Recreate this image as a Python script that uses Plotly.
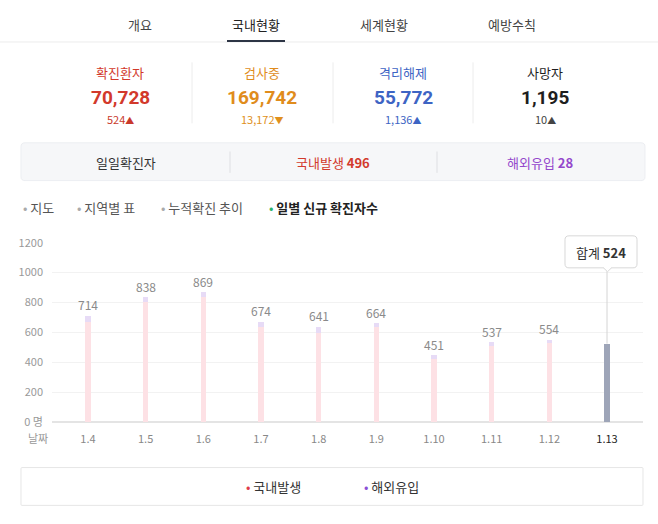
import plotly.graph_objects as go

# ---------------- data ----------------
dates = ["1.4", "1.5", "1.6", "1.7", "1.8", "1.9", "1.10", "1.11", "1.12", "1.13"]
totals = [714, 838, 869, 674, 641, 664, 451, 537, 554, 524]
overseas = [43, 33, 32, 33, 40, 28, 29, 23, 22, 28]
domestic = [t - o for t, o in zip(totals, overseas)]

tabs = ["개요", "국내현황", "세계현황", "예방수칙"]
stat_titles = ["확진환자", "검사중", "격리해제", "사망자"]
stat_values = ["70,728", "169,742", "55,772", "1,195"]
stat_deltas = ["524", "13,172", "1,136", "10"]
stat_arrows = ["▲", "▼", "▲", "▲"]
sub_tabs = ["지도", "지역별 표", "누적확진 추이", "일별 신규 확진자수"]
y_ticks = [0, 200, 400, 600, 800, 1000, 1200]
legend_names = ["국내발생", "해외유입"]

# ---------------- geometry helpers ----------------
W, H = 658, 524
FONT = "Noto Sans CJK KR"
NUMFONT = "Roboto"


def fx(x):
    return x / W


def fy(y):
    return 1 - y / H


def rrect(x0, y0, x1, y1, r):
    pts = [
        ("M", x0 + r, y0), ("L", x1 - r, y0), ("Q", x1, y0, x1, y0 + r),
        ("L", x1, y1 - r), ("Q", x1, y1, x1 - r, y1), ("L", x0 + r, y1),
        ("Q", x0, y1, x0, y1 - r), ("L", x0, y0 + r), ("Q", x0, y0, x0 + r, y0),
    ]
    s = ""
    for p in pts:
        cmd = p[0]
        coords = p[1:]
        s += cmd + " " + " ".join(
            f"{fx(coords[i]):.5f},{fy(coords[i + 1]):.5f}" for i in range(0, len(coords), 2)
        ) + " "
    return s + "Z"


annotations = []
shapes = []


def text(x, y, t, size=13, color="#333", xanchor="center", yanchor="middle", family=FONT):
    annotations.append(dict(
        x=fx(x), y=fy(y), xref="paper", yref="paper", text=t, showarrow=False,
        xanchor=xanchor, yanchor=yanchor, font=dict(family=family, size=size, color=color)))


def line(x0, y0, x1, y1, color, width=1, layer="below"):
    shapes.append(dict(type="line", xref="paper", yref="paper",
                       x0=fx(x0), y0=fy(y0), x1=fx(x1), y1=fy(y1),
                       line=dict(color=color, width=width), layer=layer))


# ---------------- top tabs ----------------
tab_x = [140, 256, 384, 512]
for i, t in enumerate(tabs):
    text(tab_x[i], 16, t, size=13, color="#222" if i == 1 else "#444")
line(0, 34, W, 34, "#ececec")
line(227, 33, 285, 33, "#2d3545", 2)

# ---------------- stats ----------------
stat_x = [120, 262, 403, 545]
stat_colors = ["#d2392b", "#e08c1c", "#3d64c4", "#1e1e1e"]
delta_colors = ["#c9392c", "#e0901c", "#3d64c4", "#444"]
for i in range(4):
    text(stat_x[i], 66, stat_titles[i], size=13, color=stat_colors[i])
    text(stat_x[i], 91, f"<b>{stat_values[i]}</b>", size=19, color=stat_colors[i], family=NUMFONT)
    text(stat_x[i], 113, f"{stat_deltas[i]}<span style='font-size:9px'>{stat_arrows[i]}</span>",
         size=11, color=delta_colors[i])
for sx in [192, 333, 473]:
    line(sx, 55, sx, 118, "#ececec")

# ---------------- daily box ----------------
shapes.append(dict(type="path", xref="paper", yref="paper", path=rrect(21, 138, 645, 177, 4),
                   fillcolor="#f6f7f9", line=dict(color="#eceef2", width=1), layer="below"))
for sx in [230, 437]:
    line(sx, 147, sx, 169, "#dedfe3")
text(126, 158, "일일확진자", size=13, color="#333")
text(333, 158, f"국내발생 <b>{domestic[-1]}</b>", size=13, color="#d23a2c")
text(540, 158, f"해외유입 <b>{overseas[-1]}</b>", size=13, color="#9447cc")

# ---------------- sub tabs ----------------
sub_x = [21, 75, 159, 267]
for i, t in enumerate(sub_tabs):
    if i == 3:
        s = f"<span style='color:#2bb36c'>•</span> <b>{t}</b>"
        text(sub_x[i], 205, s, size=13, color="#222", xanchor="left")
    else:
        s = f"<span style='color:#aaa'>•</span> {t}"
        text(sub_x[i], 205, s, size=13, color="#555", xanchor="left")

# ---------------- legend box ----------------
shapes.append(dict(type="path", xref="paper", yref="paper", path=rrect(21, 473, 643, 512, 1),
                   fillcolor="white", line=dict(color="#e6e6e6", width=1), layer="below"))
text(244, 493, f"<span style='color:#e03c4a'>•</span> {legend_names[0]}", size=13, color="#333", xanchor="left")
text(362, 493, f"<span style='color:#8b4fd6'>•</span> {legend_names[1]}", size=13, color="#333", xanchor="left")

# ---------------- chart ----------------
n = len(dates)
xs = list(range(n))
hl = n - 1
dom_colors = ["#fde1e5"] * n
ovs_colors = ["#e7dbf6"] * n
dom_colors[hl] = "#9ea5b8"
ovs_colors[hl] = "#9ea5b8"

fig = go.Figure()
fig.add_trace(go.Bar(x=xs, y=domestic, name=legend_names[0], marker=dict(color=dom_colors, line=dict(width=0)),
                     width=0.088, hoverinfo="skip"))
fig.add_trace(go.Bar(x=xs, y=overseas, name=legend_names[1], marker=dict(color=ovs_colors, line=dict(width=0)),
                     width=0.088, hoverinfo="skip"))

for i in range(n - 1):
    annotations.append(dict(x=xs[i], y=totals[i], xref="x", yref="y", text=str(totals[i]),
                            showarrow=False, yanchor="bottom", yshift=0,
                            font=dict(family=FONT, size=12, color="#8a8a8a")))

ticktext = [d if i != hl else f"<span style='color:#222'>{d}</span>" for i, d in enumerate(dates)]
ytext = [("0 명" if v == 0 else str(v)) for v in y_ticks]

# tooltip
shapes.append(dict(type="line", xref="x", yref="y", x0=xs[hl], x1=xs[hl], y0=totals[hl], y1=1025,
                   line=dict(color="#d4d4d4", width=1), layer="above"))
shapes.append(dict(type="path", xref="paper", yref="paper", path=rrect(565, 234, 637, 267, 4),
                   fillcolor="white", line=dict(color="#d8d8d8", width=1), layer="above"))
shapes.append(dict(type="path", xref="paper", yref="paper",
                   path=f"M {fx(603):.5f},{fy(266.5):.5f} L {fx(607.5):.5f},{fy(271):.5f} L {fx(612):.5f},{fy(266.5):.5f} Z",
                   fillcolor="white", line=dict(color="white", width=1), layer="above"))
line(603, 266.5, 607.5, 271, "#d8d8d8", layer="above")
line(607.5, 271, 612, 266.5, "#d8d8d8", layer="above")
text(601, 251, f"합계 <b>{totals[hl]}</b>", size=13, color="#333")

# axis title 날짜
text(38, 443, "날짜", size=11, color="#999")

fig.update_layout(
    width=W, height=H, margin=dict(l=0, r=0, t=0, b=0),
    paper_bgcolor="white", plot_bgcolor="white",
    barmode="stack", showlegend=False, bargap=0,
    font=dict(family=FONT),
    shapes=shapes, annotations=annotations,
    xaxis=dict(domain=[fx(52), fx(643)], range=[-0.624, 9.624], tickvals=xs, ticktext=ticktext,
               showgrid=False, zeroline=False, showline=False, ticks="", ticklabelstandoff=9,
               tickfont=dict(family=FONT, size=11, color="#888"), fixedrange=True),
    yaxis=dict(domain=[fy(426), fy(241)], range=[0, 1200], tickvals=y_ticks, ticktext=ytext,
               showgrid=True, gridcolor="#f2f2f2", gridwidth=1, zeroline=True, zerolinecolor="#e4e4e4",
               showline=False, ticks="", ticklabelstandoff=8,
               tickfont=dict(family=FONT, size=11, color="#999"), fixedrange=True),
)

fig.write_html("out.html", config={"displayModeBar": False})
